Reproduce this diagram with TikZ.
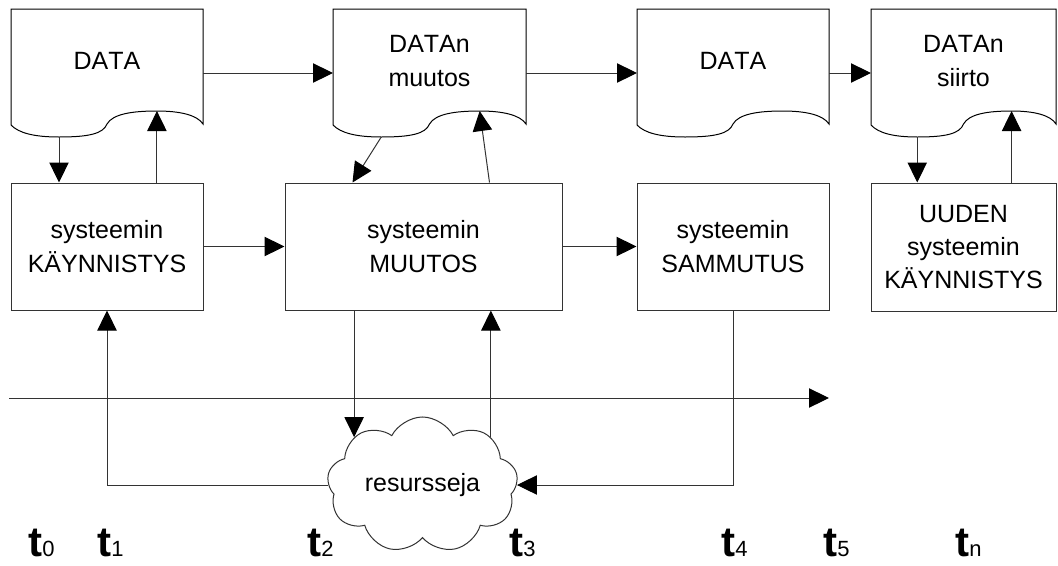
\documentclass[tikz,border=0pt]{standalone}
\usepackage{fontspec}
\setmainfont[Kerning=Off]{Liberation Sans}
\usetikzlibrary{calc}
\usetikzlibrary{positioning}
\usetikzlibrary{arrows.meta}
\usetikzlibrary{shapes.symbols}

\tikzset{
  line/.style={draw=black!80, line width=0.75pt},
  arr/.style={line, -{Triangle[length=15pt,width=14.5pt,color=black]}},
  sysbox/.style={line, rectangle, minimum height=95.25pt, inner sep=0pt, align=center, font=\fontsize{18.75}{25}\selectfont},
  doctext/.style={align=center, inner sep=0pt, font=\fontsize{18.75}{25}\selectfont},
  tlabel/.style={anchor=base west, inner sep=0pt}
}

\newcommand{\tbig}{\fontsize{31.5}{32}\selectfont\bfseries}
\newcommand{\tsmall}{\fontsize{16.5}{17}\selectfont}

% document shape: name, left x, right x, text
\newcommand{\datadoc}[4]{%
  \pgfmathsetmacro{\docw}{#3-#2}
  \draw[line, draw=black] (#2,9) -- (#2,125)
    .. controls ({#2+0.04*\docw},133) and ({#2+0.12*\docw},137) .. ({#2+0.25*\docw},137)
    .. controls ({#2+0.40*\docw},137) and ({#2+0.48*\docw},134) .. ({#2+0.5*\docw},124)
    .. controls ({#2+0.53*\docw},114) and ({#2+0.63*\docw},111) .. ({#2+0.76*\docw},111)
    .. controls ({#2+0.88*\docw},111) and ({#2+0.97*\docw},115) .. (#3,124)
    -- (#3,9) -- cycle;
  \node[doctext] (#1) at ({(#2+#3)/2},61) {#4};
  \coordinate (#1-w) at (#2,73);
  \coordinate (#1-e) at (#3,73);
  \coordinate (#1-dn) at ({#2+0.25*\docw},137);
  \coordinate (#1-up) at ({#2+0.76*\docw},111);
}

\begin{document}
\begin{tikzpicture}[x=0.75pt, y=-0.75pt]
\useasboundingbox (0,0) rectangle (1058,565);

\datadoc{d1}{11}{203}{DATA}
\datadoc{d2}{333}{526}{DATAn\\muutos}
\datadoc{d3}{637}{829}{DATA}
\datadoc{d4}{871}{1056}{DATAn\\siirto}

\node[sysbox, minimum width=144pt] (b1) at (107,246.5) {systeemin\\KÄYNNISTYS};
\node[sysbox, minimum width=207.75pt] (b2) at (423.5,246.5) {systeemin\\MUUTOS};
\node[sysbox, minimum width=144pt] (b3) at (733,246.5) {systeemin\\SAMMUTUS};
\node[sysbox, minimum width=138.75pt, minimum height=96pt] (b4) at (963.5,247) {UUDEN\\systeemin\\KÄYNNISTYS};

\node[line, cloud, cloud puffs=9, cloud puff arc=125, aspect=1.5, minimum width=143pt, minimum height=94.5pt, inner sep=0pt, font=\fontsize{18.75}{25}\selectfont] (res) at (422.5,485) {resursseja};

\coordinate (t-start) at (9,398);
\coordinate (t-end) at (829,398);

\draw[arr] (d1-e) -- (d2-w);
\draw[arr] (d2-e) -- (d3-w);
\draw[arr] (d3-e) -- (d4-w);
\draw[arr] (d1-dn) -- (d1-dn |- b1.north);
\draw[arr] (d1-up |- b1.north) -- (d1-up);
\draw[arr] (d2-dn) -- ($(b2.north west)+(68,0)$);
\draw[arr] ($(b2.north west)+(205,0)$) -- (d2-up);
\draw[arr] (d4-dn) -- (d4-dn |- b4.north);
\draw[arr] (d4-up |- b4.north) -- (d4-up);
\draw[arr] (b1.east) -- (b2.west);
\draw[arr] (b2.east) -- (b3.west);
\draw[arr] (t-start) -- (t-end);
\draw[arr] (res.145 |- b2.south) -- (res.145);
\draw[arr] (res.35) -- (res.35 |- b2.south);
\draw[arr] (res.west) -| (b1.south);
\draw[arr] (b3.south) |- (res.east);

\node[tlabel] (t0) at (28,556) {{\tbig t}{\tsmall 0}};
\node[tlabel] (t1) at (97,556) {{\tbig t}{\tsmall 1}};
\node[tlabel] (t2) at (307,556) {{\tbig t}{\tsmall 2}};
\node[tlabel] (t3) at (509,556) {{\tbig t}{\tsmall 3}};
\node[tlabel] (t4) at (721,556) {{\tbig t}{\tsmall 4}};
\node[tlabel] (t5) at (823,556) {{\tbig t}{\tsmall 5}};
\node[tlabel] (tn) at (955,556) {{\tbig t}{\tsmall n}};

\end{tikzpicture}
\end{document}
